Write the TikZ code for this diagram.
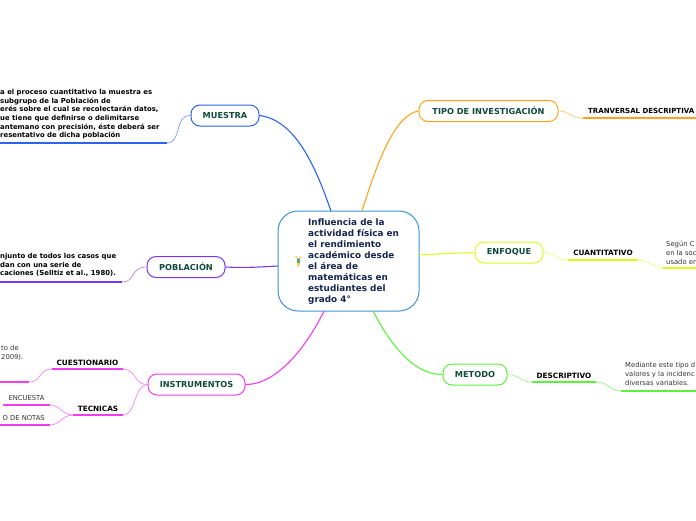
\documentclass[tikz,border=0pt]{standalone}
\usepackage{fontspec}
\setmainfont{DejaVu Sans}
\definecolor{bluecol}{HTML}{2A62F2}
\definecolor{orangecol}{HTML}{FFA21F}
\definecolor{limecol}{HTML}{D6FF1F}
\definecolor{greencol}{HTML}{5CF23C}
\definecolor{pinkcol}{HTML}{F23CF2}
\definecolor{purplecol}{HTML}{7A36F2}
\definecolor{centralcol}{HTML}{3D93D6}
\definecolor{navytext}{HTML}{14264F}
\definecolor{greentext}{HTML}{0F4A3A}
\definecolor{greytext}{HTML}{333333}
\tikzset{
  branch/.style={draw=#1, line width=1pt, rounded corners=9pt, fill=white, minimum height=21pt,
    inner sep=0pt, font=\bfseries\fontsize{8.2}{10}\selectfont, text=greentext},
  link/.style={draw=#1, line width=1.1pt},
  thinlink/.style={draw=#1!70, line width=0.6pt},
  underline/.style={draw=#1, line width=1.6pt},
  leaflabel/.style={font=\bfseries\fontsize{7.3}{9}\selectfont},
  leaftext/.style={font=\fontsize{6.8}{9}\selectfont, text=greytext, align=left, inner sep=0pt},
  boldtext/.style={font=\bfseries\fontsize{6.9}{8.7}\selectfont, align=left, inner sep=0pt}
}
\begin{document}
\begin{tikzpicture}[x=1pt,y=-1pt]
  \useasboundingbox (0,0) rectangle (696,520);
  \clip (0,0) rectangle (696,520);

  \node [draw=centralcol, line width=1pt, rounded corners=20pt, minimum width=141pt, minimum height=100pt,
    inner sep=0pt, fill=white] (central) at (348.5,261) {};
  \node [anchor=north west, inner sep=0pt, align=left, text=navytext,
    font=\bfseries\fontsize{8.85}{11}\selectfont] (title) at (308,219) {Influencia de la\\actividad física en\\el rendimiento\\académico desde\\el área de\\matemáticas en\\estudiantes del\\grado 4°};
  \draw [draw=orange!40!yellow!60!brown, line width=0.7pt] (295.5,256) -- (298,259) -- (301.5,257);
  \fill [teal!70] (297,259) rectangle (299.5,262.5);
  \fill [yellow!80!orange] (297,262.5) rectangle (299.5,265);
  \fill [orange!40!white] (297,265) rectangle (299,267);

  \node [branch=bluecol, minimum width=68pt] (muestra) at (225,115.5) {MUESTRA};
  \node [branch=orangecol, minimum width=139pt] (tipo) at (488.5,111) {TIPO DE INVESTIGACIÓN};
  \node [branch=limecol, minimum width=68pt] (enfoque) at (509,252.5) {ENFOQUE};
  \node [branch=greencol, minimum width=64pt] (metodo) at (475,374.5) {METODO};
  \node [branch=pinkcol, minimum width=97pt] (instrumentos) at (196.5,384.5) {INSTRUMENTOS};
  \node [branch=purplecol, minimum width=78pt] (poblacion) at (186,267) {POBLACIÓN};

  \coordinate (cM) at (331,211);
  \coordinate (cT) at (362,211);
  \coordinate (cE) at (419,255);
  \coordinate (cD) at (373,311);
  \coordinate (cI) at (324,311);
  \coordinate (cP) at (278,266);

  \draw [link=bluecol] (cM) .. controls (315,165) and (295,120) .. (muestra.east);
  \draw [link=orangecol] (cT) .. controls (378,160) and (395,115) .. (tipo.west);
  \draw [link=limecol] (cE) .. controls (440,254) and (455,253) .. (enfoque.west);
  \draw [link=greencol] (cD) .. controls (388,340) and (412,375) .. (metodo.west);
  \draw [link=pinkcol] (cI) .. controls (305,350) and (275,385) .. (instrumentos.east);
  \draw [link=purplecol] (cP) .. controls (260,267) and (245,268) .. (poblacion.east);

  % izquierda
  \coordinate (mL) at (0,143);
  \coordinate (mR) at (167,143);
  \draw [underline=bluecol] (mL) -- (mR);
  \draw [thinlink=bluecol] (mR) .. controls (182,143) and (174,115) .. (muestra.west);
  \node [boldtext, anchor=north west] (muestratxt) at (0,89) {a el proceso cuantitativo la muestra es\\ subgrupo de la Población de\\erés sobre el cual se recolectarán datos,\\ue tiene que definirse o delimitarse\\antemano con precisión, éste deberá ser\\resentativo de dicha población};

  \coordinate (pL) at (0,282);
  \coordinate (pR) at (122,282);
  \draw [underline=purplecol] (pL) -- (pR);
  \draw [thinlink=purplecol] (pR) .. controls (136,282) and (130,267) .. (poblacion.west);
  \node [boldtext, anchor=north west] (poblaciontxt) at (0,253) {njunto de todos los casos que\\dan con una serie de\\caciones (Selltiz et al., 1980).};

  \coordinate (cuL) at (52,369);
  \coordinate (cuR) at (123,369);
  \coordinate (teL) at (73,415);
  \coordinate (teR) at (123,415);
  \coordinate (cxL) at (0,382);
  \coordinate (cxR) at (29,382);
  \coordinate (enL) at (3,405);
  \coordinate (enR) at (50,405);
  \coordinate (noL) at (0,425);
  \coordinate (noR) at (50,425);
  \draw [underline=pinkcol] (cuL) -- node [leaflabel, above=-0.5pt] (cuestionario) {CUESTIONARIO} (cuR);
  \draw [underline=pinkcol] (teL) -- node [leaflabel, above=-0.5pt] (tecnicas) {TECNICAS} (teR);
  \draw [underline=pinkcol] (cxL) -- (cxR);
  \draw [underline=pinkcol] (enL) -- (enR);
  \draw [underline=pinkcol] (noL) -- (noR);
  \node [leaftext, anchor=center] (encuesta) at (26.5,398) {ENCUESTA};
  \node [leaftext, anchor=east] (notas) at (45,418) {O DE NOTAS};
  \node [leaftext, anchor=north west] (cuestionariotxt) at (1,345.5) {to de\\2009).};
  \draw [thinlink=pinkcol] (cuR) .. controls (136,369) and (134,385) .. (instrumentos.west);
  \draw [thinlink=pinkcol] (teR) .. controls (136,415) and (134,385) .. (instrumentos.west);
  \draw [thinlink=pinkcol] (cxR) .. controls (42,382) and (38,369) .. (cuL);
  \draw [thinlink=pinkcol] (enR) .. controls (60,405) and (62,415) .. (teL);
  \draw [thinlink=pinkcol] (noR) .. controls (60,425) and (62,415) .. (teL);

  % derecha
  \coordinate (tL) at (583,118);
  \coordinate (tR) at (696,118);
  \draw [underline=orangecol] (tL) -- (tR);
  \draw [thinlink=orangecol] (tipo.east) .. controls (570,111) and (570,118) .. (tL);
  \node [leaflabel, anchor=west, inner sep=0pt, font=\bfseries\fontsize{7}{9}\selectfont] (tranversal) at (588,111) {TRANVERSAL DESCRIPTIVA};

  \coordinate (eL) at (568,260);
  \coordinate (eR) at (638,260);
  \coordinate (fL) at (663,268);
  \coordinate (fR) at (696,268);
  \draw [underline=limecol] (eL) -- node [leaflabel, above=0pt] (cuantitativo) {CUANTITATIVO} (eR);
  \draw [underline=limecol] (fL) -- (fR);
  \draw [thinlink=limecol] (enfoque.east) .. controls (556,253) and (556,260) .. (eL);
  \draw [thinlink=limecol] (eR) .. controls (651,260) and (651,268) .. (fL);
  \node [leaftext, anchor=north west] (segun) at (666,241) {Según C\\en la soc\\usado en};

  \coordinate (dL) at (532,382);
  \coordinate (dR) at (596,382);
  \coordinate (gL) at (621,391);
  \coordinate (gR) at (696,391);
  \draw [underline=greencol] (dL) -- node [leaflabel, above=-0.5pt] (descriptivo) {DESCRIPTIVO} (dR);
  \draw [underline=greencol] (gL) -- (gR);
  \draw [thinlink=greencol] (metodo.east) .. controls (520,375) and (520,382) .. (dL);
  \draw [thinlink=greencol] (dR) .. controls (609,382) and (609,391) .. (gL);
  \node [leaftext, anchor=north west] (mediante) at (625,362.5) {Mediante este tipo d\\valores y la incidenc\\diversas variables.};
\end{tikzpicture}
\end{document}
